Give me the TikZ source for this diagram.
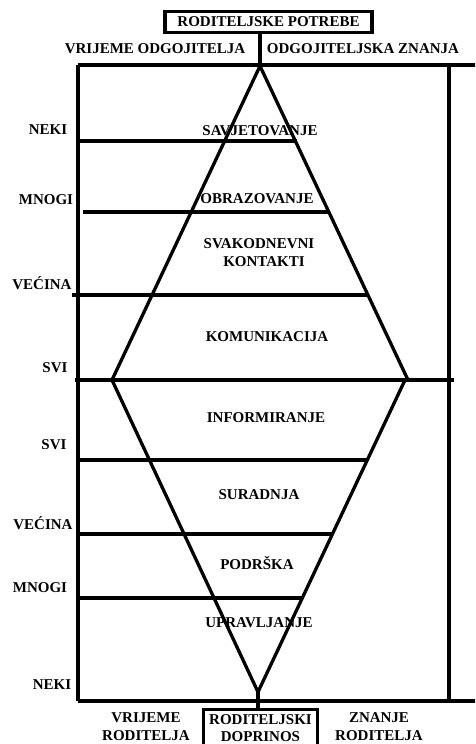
\documentclass[tikz,border=0pt]{standalone}
\usepackage{fontspec}
\setmainfont{Liberation Serif}
\begin{document}
\begin{tikzpicture}[x=1pt,y=-1pt,
  lbl/.style={font=\bfseries\fontsize{15}{18}\selectfont, inner sep=0pt, align=center},
  boxed/.style={lbl, draw, line width=3.2pt},
  ln/.style={line width=3.3pt, line join=miter}]
\path[use as bounding box, clip] (0,0) rectangle (475,744);
\fill[white] (0,0) rectangle (475,744);
% top and bottom boxes
\node[boxed, minimum width=207pt, minimum height=21pt] (top) at (268.5,22) {RODITELJSKE POTREBE};
\node[boxed, minimum width=114pt, minimum height=50pt, anchor=north] (bot) at (260.5,708) {};
\node[lbl, font=\bfseries\fontsize{15}{17}\selectfont] (botlbl) at (260.5,728.5) {RODITELJSKI\\DOPRINOS};
% header labels
\node[lbl] (vo) at (155,49) {VRIJEME ODGOJITELJA};
\node[lbl] (oz) at (363,49) {ODGOJITELJSKA ZNANJA};
\node[lbl] (vr) at (146,726.5) {VRIJEME\\RODITELJA};
\node[lbl] (zr) at (379,726.5) {ZNANJE\\RODITELJA};
% left labels
\node[lbl] (l1) at (48,130) {NEKI};
\node[lbl] (l2) at (46,200) {MNOGI};
\node[lbl] (l3) at (42,283) {VEĆINA};
\node[lbl] (l4) at (55,368) {SVI};
\node[lbl] (l5) at (54,445) {SVI};
\node[lbl] (l6) at (43,523) {VEĆINA};
\node[lbl] (l7) at (40,588) {MNOGI};
\node[lbl] (l8) at (52,685) {NEKI};
% inner labels
\node[lbl] (c1) at (260,131) {SAVJETOVANJE};
\node[lbl] (c2) at (257,199) {OBRAZOVANJE};
\node[lbl] (c3) at (259,253) {SVAKODNEVNI\\\hspace*{10pt}KONTAKTI};
\node[lbl] (c4) at (267,337) {KOMUNIKACIJA};
\node[lbl] (c5) at (266,418) {INFORMIRANJE};
\node[lbl] (c6) at (259,495) {SURADNJA};
\node[lbl] (c7) at (257,563) {PODRŠKA};
\node[lbl] (c8) at (259,623) {UPRAVLJANJE};
% key points
\coordinate (apexT) at (260,66);
\coordinate (apexB) at (258,692);
\coordinate (lv) at (112,380);
\coordinate (rvT) at (408,380);
\coordinate (rvB) at (405,380);
% frame
\draw[ln] (78,65) -- (480,65);
\draw[ln] (78,65) -- (78,701);
\draw[ln] (78,701) -- (480,701);
\draw[ln] (449,65) -- (449,701);
% triangles
\draw[ln] (apexT) -- (lv) -- (rvT) -- cycle;
\draw[ln] (lv) -- (apexB) -- (rvB);
% connectors
\draw[ln] (apexT |- top.south) -- (apexT);
\draw[ln] (apexB) -- (apexB |- bot.north);
% horizontal levels
\draw[ln] (78,141) -- (297,141);
\draw[ln] (83,212) -- (330,212);
\draw[ln] (72,295) -- (368,295);
\draw[ln] (75,380) -- (454,380);
\draw[ln] (78,460) -- (368,460);
\draw[ln] (78,534) -- (333,534);
\draw[ln] (78,598) -- (302,598);
\end{tikzpicture}
\end{document}
